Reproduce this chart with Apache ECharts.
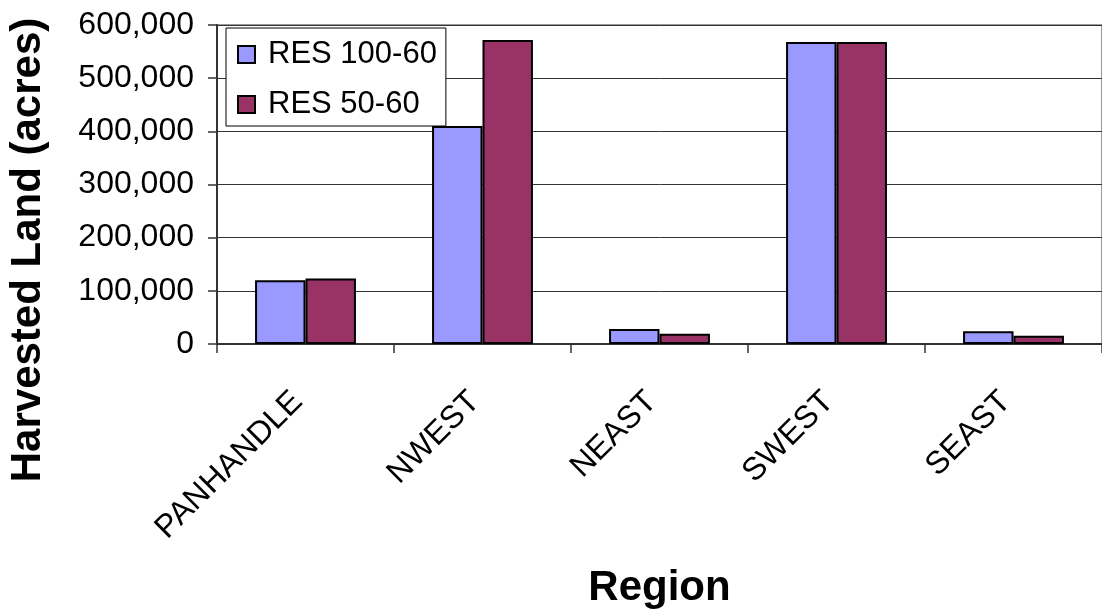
<!DOCTYPE html>
<html>
<head>
<meta charset="utf-8">
<script src="https://cdn.jsdelivr.net/npm/echarts@6/dist/echarts.min.js"></script>
<style>html,body{margin:0;padding:0;background:#fff;}#c{width:1102px;height:614px;}</style>
</head>
<body>
<div id="c"></div>
<script>
var categories = ['PANHANDLE', 'NWEST', 'NEAST', 'SWEST', 'SEAST'];
var seriesNames = ['RES 100-60', 'RES 50-60'];
var res100 = [120000, 410000, 28000, 568000, 24000];
var res50 = [123000, 572000, 19500, 568000, 15500];
var yTicks = [0, 100000, 200000, 300000, 400000, 500000, 600000];

var FONT = 'Liberation Sans, Arial, sans-serif';
var chart = echarts.init(document.getElementById('c'));
chart.setOption({
  animation: false,
  backgroundColor: '#ffffff',
  textStyle: { fontFamily: FONT, color: '#000' },
  grid: { left: 217, top: 25, width: 891, height: 339, show: true, borderColor: '#9a9a9a', borderWidth: 2, backgroundColor: 'transparent' },
  legend: {
    orient: 'vertical',
    left: 226, top: 28,
    data: seriesNames,
    backgroundColor: '#ffffff',
    borderColor: '#000',
    borderWidth: 1,
    padding: [11, 9, 6, 11],
    itemGap: 19,
    itemWidth: 17, itemHeight: 17,
    icon: 'rect',
    itemStyle: { borderColor: '#000', borderWidth: 2 },
    textStyle: { fontSize: 31, fontFamily: FONT, color: '#000', lineHeight: 31, padding: [0, 0, 0, 8] }
  },
  xAxis: {
    type: 'category',
    data: categories,
    boundaryGap: true,
    name: 'Region',
    nameLocation: 'middle',
    nameGap: 223,
    nameTextStyle: { fontSize: 42, fontWeight: 'bold', fontFamily: FONT, color: '#000' },
    axisLine: { lineStyle: { color: '#333', width: 2 } },
    axisTick: { show: true, length: 9, inside: false, alignWithLabel: false, lineStyle: { color: '#333', width: 1.5 } },
    axisLabel: { rotate: 45, fontSize: 32, margin: 45, padding: [0, 11, 0, 0], color: '#000', fontFamily: FONT, interval: 0 }
  },
  yAxis: {
    type: 'value',
    min: yTicks[0],
    max: yTicks[yTicks.length - 1],
    interval: yTicks[1] - yTicks[0],
    axisLine: { show: true, lineStyle: { color: '#333', width: 2 } },
    axisTick: { show: true, length: 9, inside: false, lineStyle: { color: '#333', width: 1.5 } },
    splitLine: { show: true, lineStyle: { color: '#333', width: 1 } },
    axisLabel: {
      fontSize: 32, margin: 23, color: '#000', fontFamily: FONT,
      formatter: function (v) { return v.toString().replace(/\B(?=(\d{3})+(?!\d))/g, ','); }
    }
  },
  graphic: [{
    type: 'text',
    x: 28, y: 250,
    rotation: Math.PI / 2,
    style: {
      text: 'Harvested Land (acres)',
      fontSize: 42, fontWeight: 'bold', fontFamily: FONT, fill: '#000',
      textAlign: 'center', textVerticalAlign: 'middle'
    }
  }],
  series: [
    {
      name: seriesNames[0], type: 'bar', data: res100,
      barGap: '0%', barCategoryGap: '43%',
      itemStyle: { color: '#9999FF', borderColor: '#000', borderWidth: 2 }
    },
    {
      name: seriesNames[1], type: 'bar', data: res50,
      barGap: '0%', barCategoryGap: '43%',
      itemStyle: { color: '#993366', borderColor: '#000', borderWidth: 2 }
    }
  ]
});
</script>
</body>
</html>
